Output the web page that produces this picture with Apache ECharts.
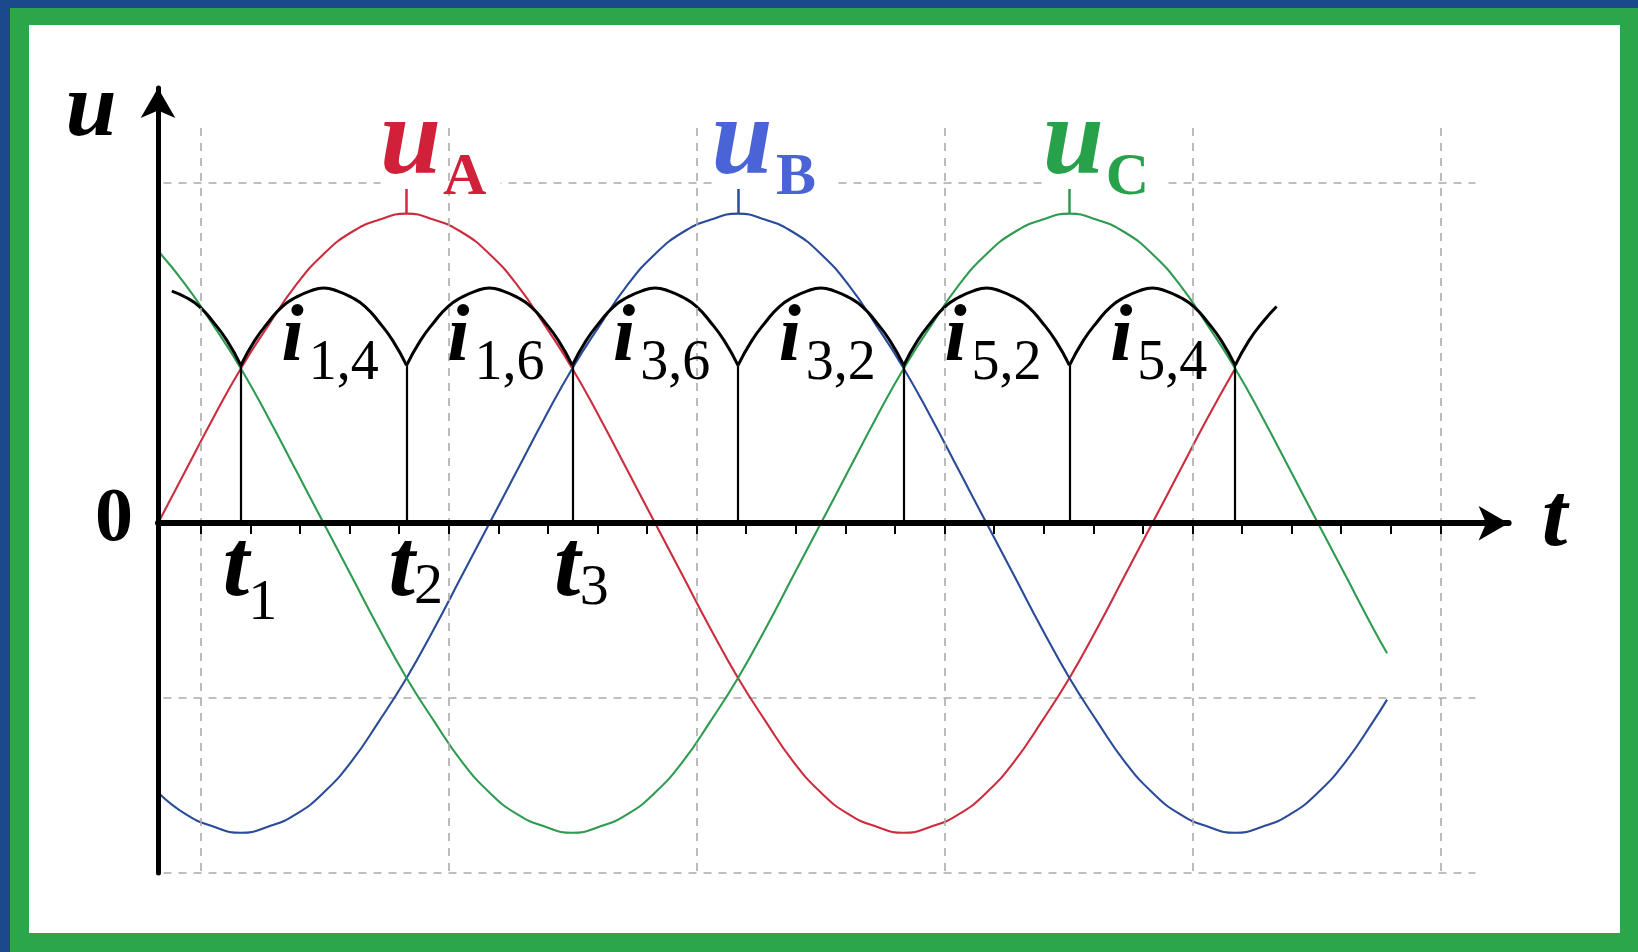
<!DOCTYPE html>
<html><head><meta charset="utf-8">
<script src="https://cdn.jsdelivr.net/npm/echarts@6/dist/echarts.min.js"></script>
<style>html,body{margin:0;padding:0;background:#1b4a8a}#c{width:1638px;height:952px}</style>
</head><body><div id="c"></div>
<script>
// ---- data (x in electrical degrees, u in units of phase peak) ----
const angleDeg = [0,10,20,30,40,50,60,70,80,90,100,110,120,130,140,150,160,170,180,190,200,210,220,230,240,250,260,270,280,290,300,310,320,330,340,350,360,370,380,390,400,410,420,430,440,445];
const uA = [0,0.17,0.34,0.5,0.64,0.77,0.87,0.94,0.98,1,0.98,0.94,0.87,0.77,0.64,0.5,0.34,0.17,0,-0.17,-0.34,-0.5,-0.64,-0.77,-0.87,-0.94,-0.98,-1,-0.98,-0.94,-0.87,-0.77,-0.64,-0.5,-0.34,-0.17,0,0.17,0.34,0.5,null,null,null,null,null,null];
const uB = [-0.87,-0.94,-0.98,-1,-0.98,-0.94,-0.87,-0.77,-0.64,-0.5,-0.34,-0.17,0,0.17,0.34,0.5,0.64,0.77,0.87,0.94,0.98,1,0.98,0.94,0.87,0.77,0.64,0.5,0.34,0.17,0,-0.17,-0.34,-0.5,-0.64,-0.77,-0.87,-0.94,-0.98,-1,-0.98,-0.94,-0.87,-0.77,-0.64,-0.57];
const uC = [0.88,0.77,0.64,0.5,0.34,0.17,0,-0.17,-0.34,-0.5,-0.64,-0.77,-0.87,-0.94,-0.98,-1,-0.98,-0.94,-0.87,-0.77,-0.64,-0.5,-0.34,-0.17,0,0.17,0.34,0.5,0.64,0.77,0.87,0.94,0.98,1,0.98,0.94,0.87,0.77,0.64,0.5,0.34,0.17,0,-0.17,-0.34,-0.42];
const arcOffsetDeg = [-30,-25,-20,-15,-10,-5,0,5,10,15,20,25,30];
const arcProfile   = [0.51,0.59,0.65,0.70,0.73,0.75,0.76,0.75,0.73,0.70,0.65,0.59,0.51];
const arcCenterDeg = [0,60,120,180,240,300,360,420];
const envelopeRangeDeg = [5,405];
const conductionDeg = [30,90,150,210,270,330,390];
const cuspValue = 0.51;
const phaseNames = ['A','B','C'];
const phasePeakDeg = [90,210,330];
const phasePeak = 1;
const tickTop = 1.08;
const iSubscripts = ['1,4','1,6','3,6','3,2','5,2','5,4'];
const iLabelDeg = [60,120,180,240,300,360];
const tSubscripts = ['1','2','3'];
const gridLineU = [1.10,-0.565,-1.13];
const gridLineRangeDeg = [2,477];
const tickCategories = ['','','','','','','','','','','','','','','','','','','','','','','','','',''];

// ---- styles ----
const RED='#cc2d3e', BLUE='#2a4b98', GREEN='#2e9b50';
const RED_T='#d1213a', BLUE_T='#4a63d6', GREEN_T='#27a24b';
const lineColors=[RED,BLUE,GREEN], textColors=[RED_T,BLUE_T,GREEN_T];
const SERIF='"Liberation Serif","Times New Roman",serif';
const XMIN=0, XMAX=489, YMIN=-1.13, YMAX=1.406;

const chart = echarts.init(document.getElementById('c'), null, {renderer:'canvas', width:1638, height:952});

const phaseData=[uA,uB,uC].map(arr=>angleDeg.map((a,i)=>[a,arr[i]]).filter(p=>p[1]!==null));
const series=[];
phaseData.forEach((d,k)=>{
  series.push({type:'line', name:'u'+phaseNames[k], xAxisIndex:0, yAxisIndex:0, data:d, smooth:true, showSymbol:false, z:2,
    lineStyle:{color:lineColors[k], width:2.1}, silent:true,
    markLine:{symbol:['none','none'], silent:true, label:{show:false}, z:5,
      lineStyle:{color:lineColors[k], width:2.5, type:'solid'},
      data:[[{coord:[phasePeakDeg[k],phasePeak]},{coord:[phasePeakDeg[k],tickTop]}]]}});
});
arcCenterDeg.forEach(c=>{
  const d=arcOffsetDeg.map((o,i)=>[c+o,arcProfile[i]]).filter(p=>p[0]>=envelopeRangeDeg[0]&&p[0]<=envelopeRangeDeg[1]);
  series.push({type:'line', xAxisIndex:0, yAxisIndex:0, data:d, smooth:true, showSymbol:false, z:4, silent:true,
    lineStyle:{color:'#000', width:3}});
});
series.push({type:'line', xAxisIndex:0, yAxisIndex:0, data:conductionDeg.map(d=>[d,cuspValue]), showSymbol:false, clip:false,
  lineStyle:{opacity:0}, silent:true,
  markLine:{symbol:['none','none'], silent:true, label:{show:false}, z:5, lineStyle:{color:'#000', width:2.2, type:'solid'},
    data:conductionDeg.map(d=>[{coord:[d,0]},{coord:[d,cuspValue]}])}});
series.push({type:'line', xAxisIndex:0, yAxisIndex:0, data:[], showSymbol:false, clip:false, silent:true,
  markLine:{symbol:['none','none'], silent:true, label:{show:false}, z:1, lineStyle:{color:'#ababab', width:1.6, type:[8,7]},
    data:gridLineU.map(u=>[{coord:[gridLineRangeDeg[0],u]},{coord:[gridLineRangeDeg[1],u]}])}});

const option={
  animation:false,
  backgroundColor:'#1b4a8a',
  grid:[
    {left:158, right:129.4, top:88, bottom:79, containLabel:false, outerBoundsMode:'none'},
    {left:200.8, right:197.6, top:128, bottom:79, containLabel:false, outerBoundsMode:'none'}
  ],
  xAxis:[
    {gridIndex:0, type:'value', min:XMIN, max:XMAX, z:10,
      axisLine:{show:true, onZero:true, symbol:['none','arrow'], symbolSize:[26,30], lineStyle:{color:'#000', width:6}},
      axisTick:{show:false}, axisLabel:{show:false}, splitLine:{show:false}},
    {gridIndex:1, type:'category', data:tickCategories, boundaryGap:false, z:9,
      axisLine:{show:false, onZero:true},
      axisTick:{show:true, interval:0, length:11, lineStyle:{color:'#000', width:2}},
      axisLabel:{show:false},
      splitLine:{show:true, interval:4, lineStyle:{color:'#ababab', width:1.6, type:[8,7]}}}
  ],
  yAxis:[
    {gridIndex:0, type:'value', min:YMIN, max:YMAX, z:10,
      axisLine:{show:true, onZero:true, symbol:['none','arrow'], symbolSize:[26,30], lineStyle:{color:'#000', width:5}},
      axisTick:{show:false}, axisLabel:{show:false}, splitLine:{show:false}},
    {gridIndex:1, type:'value', min:-1.13, max:1.276,
      axisLine:{show:false}, axisTick:{show:false}, axisLabel:{show:false}, splitLine:{show:false}}
  ],
  series:series
};
chart.setOption(option);

const P=(d,v)=>chart.convertToPixel({xAxisIndex:0,yAxisIndex:0},[d,v]);
function txt(x,y,text,size,o){
  o=o||{};
  return {type:'text', x:x, y:y, z:100, silent:true,
    style:{text:text, fontSize:size, fontFamily:SERIF, fontWeight:o.weight||'normal', fontStyle:o.style||'normal',
      fill:o.color||'#000', align:o.align||'center', verticalAlign:'middle'}};
}
const g=[];
g.push({type:'rect', z:-10, silent:true, shape:{x:0,y:0,width:1638,height:952}, style:{fill:'#1b4a8a'}});
g.push({type:'rect', z:-9, silent:true, shape:{x:10,y:8,width:1628,height:944}, style:{fill:'#2ba64b'}});
g.push({type:'rect', z:-8, silent:true, shape:{x:29,y:25,width:1591,height:908}, style:{fill:'#ffffff'}});

let a=P(XMIN,YMAX); g.push(txt(a[0]-67,a[1]+23,'u',92,{weight:'bold',style:'italic'}));
a=P(0,0); g.push(txt(a[0]-44,a[1]-3,'0',76,{weight:'bold'}));
a=P(XMAX,0); g.push(txt(a[0]+46,a[1]-2,'t',92,{weight:'bold',style:'italic'}));
const tSubDy=[81,65,66];
tSubscripts.forEach((s,i)=>{
  const p=P(conductionDeg[i],0);
  g.push(txt(p[0]-5,p[1]+47,'t',95,{weight:'bold',style:'italic'}));
  g.push(txt(p[0]+22,p[1]+tSubDy[i],s,58));
});
const dashY=P(0,gridLineU[0])[1];
phaseNames.forEach((n,k)=>{
  const p=P(phasePeakDeg[k],phasePeak);
  g.push({type:'rect', z:6, silent:true, shape:{x:p[0]-26,y:dashY-6,width:120,height:12}, style:{fill:'#ffffff'}});
  g.push(txt(p[0]+4,p[1]-69,'u',110,{weight:'bold',style:'italic',color:textColors[k]}));
  g.push(txt(p[0]+58,p[1]-35,n,60,{weight:'bold',color:textColors[k]}));
});
iSubscripts.forEach((s,k)=>{
  const p=P(iLabelDeg[k],cuspValue);
  g.push(txt(p[0]-31,p[1]-26,'i',80,{weight:'bold',style:'italic'}));
  g.push(txt(p[0]-15,p[1]-1,s,56,{align:'left'}));
});
chart.setOption({graphic:{elements:g}});
</script>
</body></html>
